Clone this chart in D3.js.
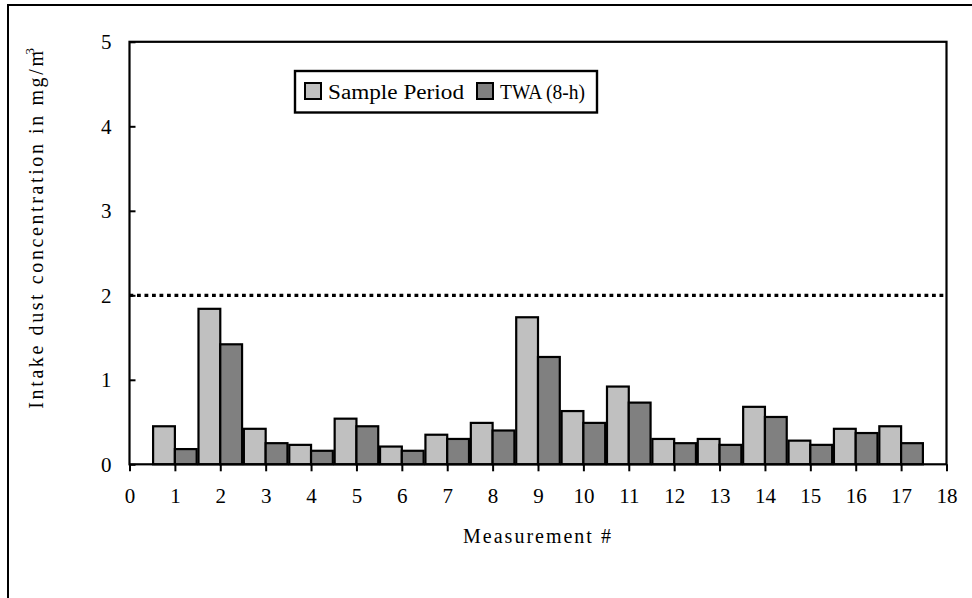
<!DOCTYPE html>
<html>
<head>
<meta charset="utf-8">
<script src="https://cdn.jsdelivr.net/npm/d3@7"></script>
<style>
  html, body { margin: 0; padding: 0; background: #fff; }
  svg { display: block; }
</style>
</head>
<body>
<svg id="chart" width="972" height="598"></svg>
<script>
// ---- Data ----
const measurements = [1, 2, 3, 4, 5, 6, 7, 8, 9, 10, 11, 12, 13, 14, 15, 16, 17];
const samplePeriod = [0.45, 1.84, 0.42, 0.23, 0.54, 0.21, 0.35, 0.49, 1.74, 0.63, 0.92, 0.30, 0.30, 0.68, 0.28, 0.42, 0.45];
const twa8h        = [0.18, 1.42, 0.25, 0.16, 0.45, 0.16, 0.30, 0.40, 1.27, 0.49, 0.73, 0.25, 0.23, 0.56, 0.23, 0.37, 0.25];
const limitValue = 2;
const xTicks = d3.range(0, 19);
const yTicks = [0, 1, 2, 3, 4, 5];
const seriesNames = ["Sample Period", "TWA (8-h)"];
const seriesColors = ["#c0c0c0", "#808080"];

// ---- Layout ----
const FONT = "'Liberation Serif', 'Times New Roman', Tinos, Times, 'DejaVu Serif', serif";
const svg = d3.select("#chart");
const pLeft = 129.5, pRight = 946.5, pTop = 41.8, pBottom = 464.3;
const x = d3.scaleLinear().domain([0, 18]).range([pLeft, pRight]);
const y = d3.scaleLinear().domain([0, 5]).range([pBottom, pTop]);
const barW = 0.48;

// outer frame (left and top visible)
svg.append("path")
  .attr("d", `M8,600 L8,5 L975,5`)
  .attr("fill", "none").attr("stroke", "#000").attr("stroke-width", 2);

// bars
const rows = measurements.map((m, i) => ({ m, s: samplePeriod[i], t: twa8h[i] }));
const g = svg.append("g");
g.selectAll("rect.s").data(rows).join("rect")
  .attr("class", "s")
  .attr("x", d => x(d.m - barW))
  .attr("width", d => x(d.m) - x(d.m - barW))
  .attr("y", d => y(d.s))
  .attr("height", d => y(0) - y(d.s))
  .attr("fill", seriesColors[0]).attr("stroke", "#000").attr("stroke-width", 2.2);
g.selectAll("rect.t").data(rows).join("rect")
  .attr("class", "t")
  .attr("x", d => x(d.m))
  .attr("width", d => x(d.m + barW) - x(d.m))
  .attr("y", d => y(d.t))
  .attr("height", d => y(0) - y(d.t))
  .attr("fill", seriesColors[1]).attr("stroke", "#000").attr("stroke-width", 2.2);

// limit dotted line
svg.append("line")
  .attr("x1", x(0)).attr("x2", x(18))
  .attr("y1", y(limitValue)).attr("y2", y(limitValue))
  .attr("stroke", "#000").attr("stroke-width", 3.2)
  .attr("stroke-dasharray", "3.8,3.7");

// plot frame
svg.append("rect")
  .attr("x", pLeft).attr("y", pTop)
  .attr("width", pRight - pLeft).attr("height", pBottom - pTop)
  .attr("fill", "none").attr("stroke", "#000").attr("stroke-width", 2.2);

// x axis
const xAxis = svg.append("g")
  .attr("transform", `translate(0,${pBottom})`)
  .call(d3.axisBottom(x).tickValues(xTicks).tickSize(7).tickPadding(16.5).tickFormat(d3.format("d")));
xAxis.attr("font-family", null).attr("font-size", null);
xAxis.select(".domain").remove();
xAxis.selectAll("line").attr("stroke", "#000").attr("stroke-width", 2);
xAxis.selectAll("text").style("font-family", FONT).style("font-size", "21px").attr("fill", "#000");

// y axis
const yAxis = svg.append("g")
  .attr("transform", `translate(${pLeft},0)`)
  .call(d3.axisLeft(y).tickValues(yTicks).tickSizeInner(-6).tickSizeOuter(0).tickPadding(18).tickFormat(d3.format("d")));
yAxis.attr("font-family", null).attr("font-size", null);
yAxis.select(".domain").remove();
yAxis.selectAll("line").attr("stroke", "#000").attr("stroke-width", 2);
yAxis.selectAll("text").style("font-family", FONT).style("font-size", "21px").attr("fill", "#000");

// x title
svg.append("text")
  .attr("x", (pLeft + pRight) / 2).attr("y", 542.7)
  .attr("text-anchor", "middle")
  .style("font-family", FONT)
  .style("font-size", "20px").style("letter-spacing", "2px")
  .text("Measurement #");

// y title
const yt = svg.append("text")
  .attr("transform", `translate(43,227) rotate(-90)`)
  .attr("text-anchor", "middle")
  .style("font-family", FONT)
  .style("font-size", "20px").style("letter-spacing", "2.6px");
yt.append("tspan").text("Intake dust concentration in mg/m");
yt.append("tspan").attr("dy", -9).attr("dx", -6).style("font-size", "13px").text("3");

// legend
const leg = svg.append("g");
leg.append("rect")
  .attr("x", 295).attr("y", 71).attr("width", 302).attr("height", 41.5)
  .attr("fill", "#fff").attr("stroke", "#000").attr("stroke-width", 2.4);
const legX = [305, 477];
const legTX = [328, 500];
const legLen = [136, 85];
seriesNames.forEach((name, i) => {
  leg.append("rect")
    .attr("x", legX[i]).attr("y", 83).attr("width", 16).attr("height", 16)
    .attr("fill", seriesColors[i]).attr("stroke", "#000").attr("stroke-width", 2);
  leg.append("text")
    .attr("x", legTX[i]).attr("y", 98.5)
    .attr("textLength", legLen[i]).attr("lengthAdjust", "spacingAndGlyphs")
    .style("font-family", FONT)
    .style("font-size", "20px")
    .text(name);
});
</script>
</body>
</html>
